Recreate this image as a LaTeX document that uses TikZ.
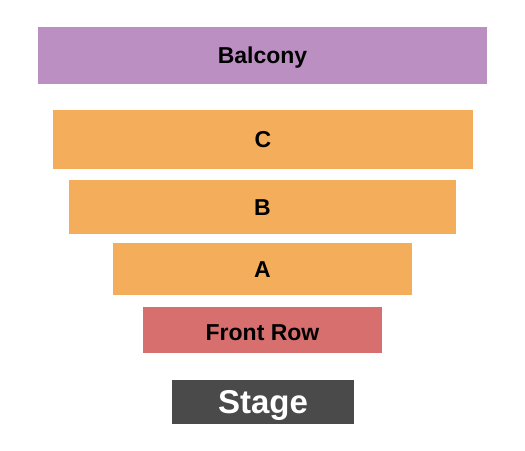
\documentclass[tikz,border=0pt]{standalone}
\usepackage{fontspec}
\setmainfont{Liberation Sans}
\usepackage{xcolor}
\usepackage{tikz}
\usetikzlibrary{positioning}

\definecolor{balconycol}{HTML}{BC8FC3}
\definecolor{seatcol}{HTML}{F3AD5B}
\definecolor{frontcol}{HTML}{D66F6E}
\definecolor{stagecol}{HTML}{4A4A4A}

\begin{document}
\begin{tikzpicture}[x=1pt, y=-1pt,
  section/.style={rectangle, inner sep=0pt, text height=16.5pt, text depth=0pt, font=\fontsize{23}{27}\selectfont\bfseries},
  balcony/.style={section, fill=balconycol},
  seats/.style={section, fill=seatcol},
  frontrow/.style={section, fill=frontcol, text height=21.5pt},
  stagebox/.style={section, fill=stagecol, text=white, text height=23.6pt, font=\fontsize{33}{39}\selectfont\bfseries}
]
\useasboundingbox (0,0) rectangle (525,450);

% Upper level
\node[balcony, minimum width=449pt, minimum height=57pt] (balc) at (262.5, 55) {Balcony};

% Floor sections
\node[seats, minimum width=420pt, minimum height=58.5pt] (secC) at (263, 139.25) {C};
\node[seats, minimum width=387pt, minimum height=54pt] (secB) at (262.5, 207) {B};
\node[seats, minimum width=299pt, minimum height=52pt] (secA) at (262.5, 269) {A};
\node[frontrow, minimum width=239pt, minimum height=46pt] (front) at (262.5, 330) {Front Row};

% Stage
\node[stagebox, minimum width=182pt, minimum height=44pt] (stage) at (263, 402) {Stage};

\end{tikzpicture}
\end{document}
